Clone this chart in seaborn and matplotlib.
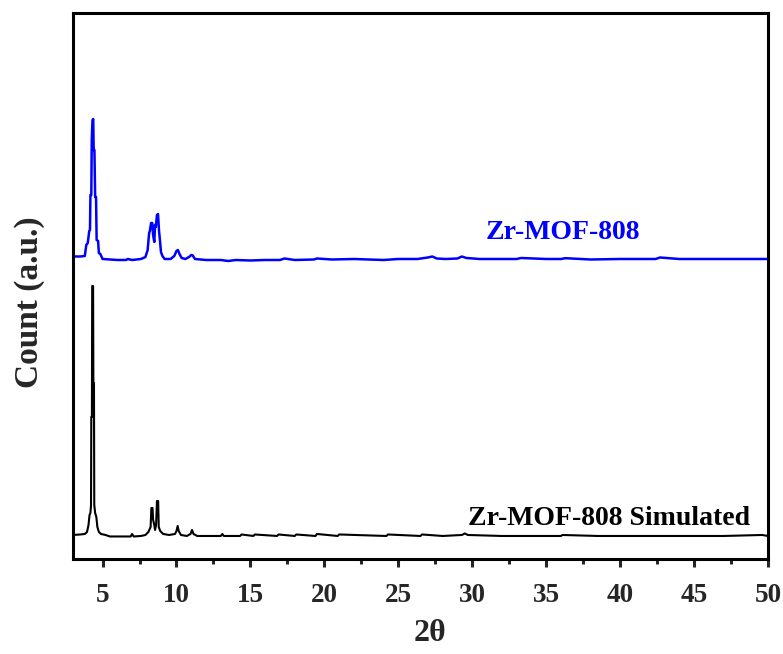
import numpy as np
import pandas as pd
import matplotlib.pyplot as plt
import matplotlib.ticker as mticker
import seaborn as sns

# measured pattern (Zr-MOF-808), intensity in a.u. above its own baseline
exp_2theta = [3.0, 3.5, 3.8, 3.9, 4.0, 4.1, 4.15, 4.18, 4.24, 4.27, 4.32, 4.37, 4.40, 4.45, 4.5,
              4.56, 4.6, 4.7, 4.75, 4.85, 5.0, 5.5, 6.0, 6.6, 6.7, 7.0, 7.6, 7.9, 8.05, 8.15,
              8.2, 8.28, 8.36, 8.42, 8.5, 8.55, 8.6, 8.68, 8.75, 8.82, 8.88, 8.95, 9.05, 9.2, 9.6,
              9.85, 10.0, 10.1, 10.2, 10.35, 10.6, 10.85, 11.0, 11.1, 11.25, 12.0, 13.0, 13.5, 14.0,
              15.0, 16.0, 17.0, 17.3, 18.0, 19.3, 19.5, 20.5, 22.0, 24.0, 25.0, 26.3, 27.0, 27.3,
              27.6, 28.2, 29.0, 29.3, 29.6, 30.5, 33.0, 33.3, 35.0, 36.0, 36.3, 38.0, 40.0, 42.4,
              42.7, 44.0, 46.0, 48.0, 50.0]
exp_counts = [2.5, 2.5, 3, 14, 16, 28, 29, 64, 64, 119, 139, 140, 109, 109, 62,
              62, 19, 18, 6, 5, 0, -0.5, -1, -1, 0, -1, 0, 2, 9, 26,
              28, 36, 36, 24, 17, 34, 32, 44, 45, 28, 19, 7, 3, 0, 0,
              3, 8, 9, 5, 1, 0, 2, 4, 3.5, 0, -1, -1, -2, -1,
              -1.5, -1, -1, 0.5, -1, -0.5, 0.5, -0.5, 0, -1, 0, 0, 1.5, 2.5,
              0.5, 0, 0.5, 2.5, 1, 0, 0, 1, 0, 0, 0.8, -0.5, 0, 0,
              1.5, 0, 0, 0, 0]

# simulated pattern
sim_2theta = [3.0, 3.5, 3.8, 3.95, 4.05, 4.12, 4.18, 4.22, 4.24, 4.28, 4.30, 4.36, 4.38, 4.42,
              4.44, 4.5, 4.58, 4.65, 4.75, 4.9, 5.2, 5.5, 6.5, 6.9, 7.0, 7.1, 7.6, 7.9, 8.1,
              8.25, 8.3, 8.38, 8.42, 8.5, 8.55, 8.62, 8.68, 8.76, 8.8, 8.9, 9.1, 9.5, 9.9, 10.0,
              10.08, 10.15, 10.3, 10.7, 10.95, 11.05, 11.15, 11.4, 13.0, 13.1, 13.2, 14.3, 14.4,
              15.2, 15.3, 16.8, 16.9, 18.0, 18.1, 19.4, 19.5, 20.9, 21.0, 24.2, 24.3, 26.5,
              26.6, 28.0, 29.3, 29.5, 29.7, 32.0, 35.0, 36.0, 36.1, 38.5, 40.0, 42.0, 44.5,
              47.0, 49.6, 50.0]
sim_counts = [0, 0.5, 1, 3, 10, 20, 22, 30, 118, 118, 249, 249, 152, 152,
              30, 22, 18, 8, 3, 1, 0, -1.5, -1.5, -1.5, 1, -1.5, -1, 0, 3,
              8, 27, 27, 15, 10, 5, 10, 34, 34, 8, 4, 1, 0, 1, 4,
              9, 4, 0, -1, 1, 5, 1, -1, -1, 1, -1, -1, 0.5,
              -1, 0.5, -1, 0.5, -1, 0.5, -1, 1, -1, 0.5, -1, 0.5, -1,
              0.5, -1, 0, 1.5, 0, -1, -1, -1, 0, -1, -1, -1, -1,
              -1, 0, -1]

offset = 276  # vertical shift of the measured pattern

exp_df = pd.DataFrame({"2theta": exp_2theta, "count": np.array(exp_counts) + offset})
sim_df = pd.DataFrame({"2theta": sim_2theta, "count": sim_counts})

sns.set_style("ticks")
plt.rcParams['font.family'] = ['Liberation Serif', 'DejaVu Serif']
plt.rcParams['font.weight'] = 'bold'

fig = plt.figure(figsize=(7.83, 6.54), dpi=100)
ax = fig.add_axes([0.0932, 0.1453, 0.8876, 0.8348])

sns.lineplot(data=exp_df, x="2theta", y="count", color="#0000ff", linewidth=1.8, ax=ax)
sns.lineplot(data=sim_df, x="2theta", y="count", color="black", linewidth=1.5, ax=ax)

ax.text(30.9, 296, "Zr-MOF-808", color="#0000ff", fontsize=20, fontweight="bold", va="baseline")
ax.text(29.7, 10, "Zr-MOF-808 Simulated", color="black", fontsize=20, fontweight="bold", va="baseline")

ax.set_xlim(3, 50)
ax.set_ylim(-24, 522)
ax.set_yticks([])
ax.xaxis.set_major_locator(mticker.MultipleLocator(5))
ax.xaxis.set_minor_locator(mticker.MultipleLocator(2.5))
ax.tick_params(axis='x', which='major', direction='out', length=6, width=2.2, labelsize=19.5, pad=11)
ax.tick_params(axis='x', which='minor', direction='out', length=3.5, width=2.2)
for label in ax.get_xticklabels():
    label.set_fontweight('bold')

for spine in ax.spines.values():
    spine.set_linewidth(2.2)
    spine.set_color('black')

ax.set_xlabel('2θ', fontsize=23, fontweight='bold')
ax.set_ylabel('Count (a.u.)', fontsize=24, fontweight='bold')
ax.xaxis.set_label_coords(0.513, -0.110)
ax.yaxis.set_label_coords(-0.040, 0.471)

plt.savefig('out.png', dpi=100)
plt.close()
